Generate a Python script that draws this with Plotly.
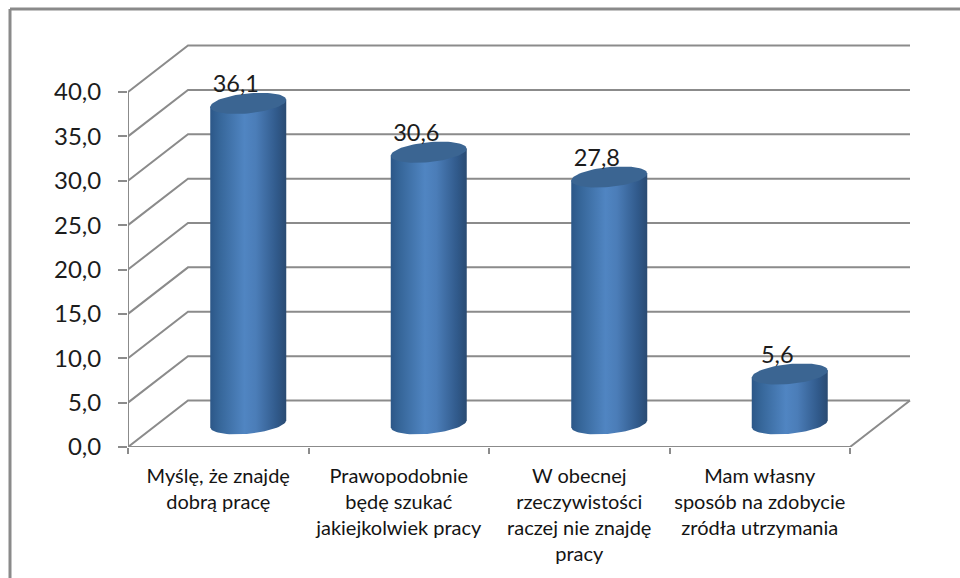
import numpy as np
import plotly.graph_objects as go

categories = ["Myślę, że znajdę<br>dobrą pracę",
              "Prawopodobnie<br>będę szukać<br>jakiejkolwiek pracy",
              "W obecnej<br>rzeczywistości<br>raczej nie znajdę<br>pracy",
              "Mam własny<br>sposób na zdobycie<br>zródła utrzymania"]
values = [36.1, 30.6, 27.8, 5.6]
y_ticks = [0, 5, 10, 15, 20, 25, 30, 35, 40]

PX_X = 180.5          # pixels per category
PX_Y = 8.875          # pixels per value unit
DEPTH_X = 60 / PX_X
DEPTH_Y = 46.5 / PX_Y
A = 38 / PX_X
B = 10 / PX_Y
K = 3.5 / PX_Y
LINE = "#8b8b8b"
FONT = "Lato"
W, H = 960, 578
L, R, T, Bm = 128, 30, 30, 131

fig = go.Figure()


def line(xs, ys):
    fig.add_trace(go.Scatter(x=xs, y=ys, mode="lines", cliponaxis=False, hoverinfo="skip",
                             line=dict(color=LINE, width=2), showlegend=False))


for v in y_ticks:
    line([0, DEPTH_X, 4 + DEPTH_X], [v, v + DEPTH_Y, v + DEPTH_Y])
line([0, 0], [0, 40])
line([0, 4, 4 + DEPTH_X], [0, 0, DEPTH_Y])

grad = [[0, "#2c5788"], [0.12, "#366699"], [0.45, "#5085c2"], [0.6, "#4b7db8"],
        [0.88, "#30598a"], [1, "#2a4b72"]]
for i, v in enumerate(values):
    cx = i + 0.5 + DEPTH_X / 2
    base = DEPTH_Y / 2
    top = base + v
    t = np.linspace(np.pi, 2 * np.pi, 40)
    bx = cx + A * np.cos(t)
    by = base + B * np.sin(t) + K * np.cos(t)
    fig.add_trace(go.Scatter(
        x=list(bx) + [cx + A, cx - A, cx - A],
        y=list(by) + [top + K, top - K, base - K],
        mode="lines", fill="toself", line=dict(width=0), showlegend=False, hoverinfo="skip",
        fillgradient=dict(type="horizontal", colorscale=grad), cliponaxis=False))
    t2 = np.linspace(0, 2 * np.pi, 80)
    fig.add_trace(go.Scatter(
        x=cx + A * np.cos(t2), y=top + B * np.sin(t2) + K * np.cos(t2),
        mode="lines", fill="toself", fillcolor="#3b6592", line=dict(width=0),
        showlegend=False, hoverinfo="skip", cliponaxis=False))

fig.add_trace(go.Scatter(
    x=[i + 0.5 + DEPTH_X / 2 - 12.5 / PX_X for i in range(len(values))],
    y=[v + DEPTH_Y / 2 + 17 / PX_Y for v in values],
    text=[f"{v:.1f}".replace(".", ",") for v in values],
    mode="text", textposition="middle center", cliponaxis=False, hoverinfo="skip",
    textfont=dict(family=FONT, size=23.5, color="#1c1c1c"), showlegend=False))

fx = lambda px: (px - L) / (W - L - R)
fy = lambda py: 1 - (py - T) / (H - T - Bm)
frame = dict(color="#8a8a8a", width=3)
shapes = [
    dict(type="line", xref="paper", yref="paper", x0=fx(10), x1=fx(10), y0=fy(9), y1=fy(580), line=frame),
    dict(type="line", xref="paper", yref="paper", x0=fx(10), x1=fx(962), y0=fy(9), y1=fy(9), line=frame),
]

fig.update_layout(
    width=W, height=H, autosize=False,
    margin=dict(l=L, r=R, t=T, b=Bm, pad=0),
    paper_bgcolor="white", plot_bgcolor="white", shapes=shapes, showlegend=False,
    xaxis=dict(range=[0, (W - L - R) / PX_X], tickmode="array",
               tickvals=[i + 0.5 for i in range(len(categories))], ticktext=categories,
               showgrid=False, zeroline=False, showline=False,
               ticks="outside", ticklen=11, tickcolor="rgba(0,0,0,0)", tickangle=0,
               tickfont=dict(family=FONT, size=20, color="#141414"),
               minor=dict(tickmode="array", tickvals=[0, 1, 2, 3, 4], ticks="outside",
                          ticklen=6, tickwidth=2, tickcolor=LINE, showgrid=False)),
    yaxis=dict(range=[0, (H - T - Bm) / PX_Y], tickmode="array", tickvals=y_ticks,
               ticktext=[f"{v:.1f}".replace(".", ",") for v in y_ticks],
               showgrid=False, zeroline=False, showline=False,
               ticks="outside", ticklen=9, tickwidth=2, tickcolor=LINE, ticklabelstandoff=12,
               tickfont=dict(family=FONT, size=24, color="#1c1c1c")),
)
fig.write_html("out.html", config={"displayModeBar": False},
               post_script="document.body.style.margin='0';document.documentElement.style.overflow='hidden';")
